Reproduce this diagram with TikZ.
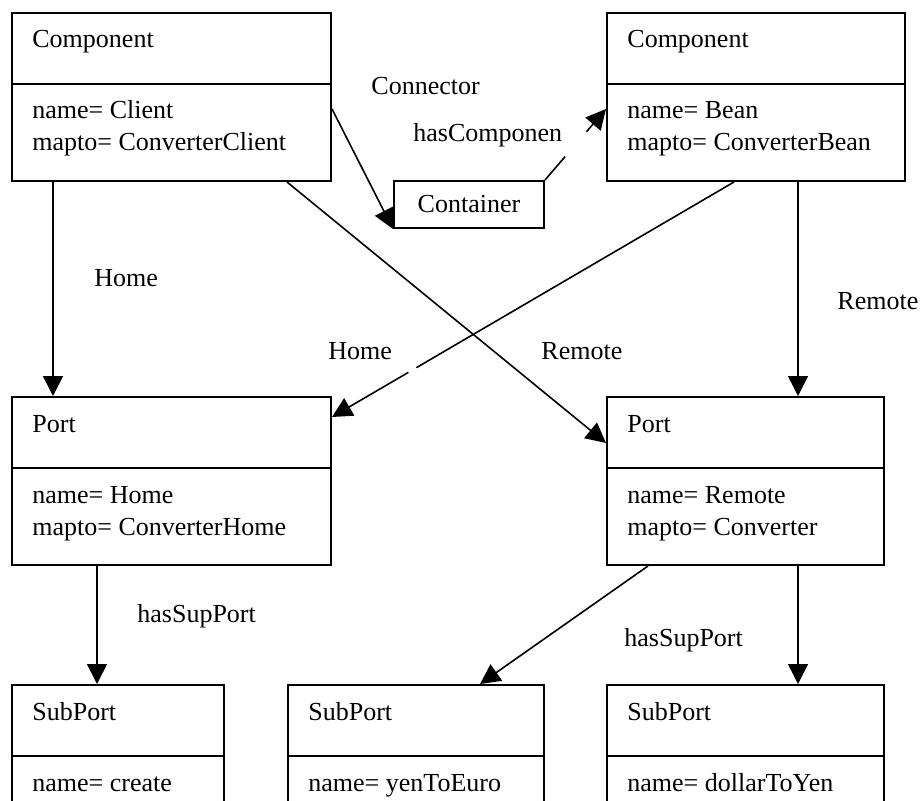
\documentclass[tikz,border=0pt]{standalone}
\usepackage{fontspec}
\setmainfont{Liberation Serif}
\usetikzlibrary{calc}
\usetikzlibrary{arrows.meta}
\tikzset{
  box/.style = {draw, line width=1pt, minimum height=84pt, inner sep=0pt},
  link/.style = {color=#1, line width=0.8pt},
  conn/.style = {color=#1, line width=0.8pt, -{Triangle[length=10pt, width=10pt]}},
  tag/.style = {anchor=base west, inner sep=0pt}
}
\newcommand{\classbox}[6]{%
  % #1: node name
  % #2: top left corner (px)
  % #3: width (px)
  % #4: class name
  % #5: first attribute line
  % #6: second attribute line (may be empty)
  \node[box, minimum width=#3*0.5pt, anchor=north west] (#1) at (#2) {};
  % divider
  \draw[line width=1pt] ($(#1.north west)+(0,72)$) -- ($(#1.north east)+(0,72)$);
  % texts
  \node[tag] (#1-title) at ($(#1.north west)+(21,36)$) {#4};
  \node[tag] (#1-name) at ($(#1.north west)+(21,107)$) {#5};
  \if\relax\detokenize{#6}\relax\else
    \node[tag] (#1-map) at ($(#1.north west)+(21,139)$) {#6};
  \fi
}

\begin{document}
\begin{tikzpicture}[x=0.5pt, y=-0.5pt, font=\fontsize{13}{15.5}\selectfont]

    \useasboundingbox (0,0) rectangle (924,801);
    \clip (0,0) rectangle (924,801);

    % Components
    \classbox{compClient}{11,12}{319}{Component}{name= Client}{mapto= ConverterClient}
    \classbox{compBean}{606,12}{298}{Component}{name= Bean}{mapto= ConverterBean}
    \node[draw, line width=1pt, minimum width=75pt, minimum height=23.5pt, anchor=north west] (container) at (393,180) {Container};

    % Ports
    \classbox{portHome}{11,396}{319}{Port}{name= Home}{mapto= ConverterHome}
    \classbox{portRemote}{606,396}{277}{Port}{name= Remote}{mapto= Converter}

    % SubPorts
    \classbox{subCreate}{11,684}{212}{SubPort}{name= create}{}
    \classbox{subYen}{287,684}{256}{SubPort}{name= yenToEuro}{}
    \classbox{subDollar}{606,684}{277}{SubPort}{name= dollarToYen}{}

    % Coordinates
    \coordinate (beanIn) at ($(compBean.north west)+(0,97)$);
    \coordinate (beanOut) at ($(compBean.south west)+(128,0)$);
    \coordinate (homeIn) at ($(portHome.north east)+(0,21)$);

    % Connectors
    \draw[conn={black}] ($(compClient.north east)+(0,97)$) -- (container.south west);
    \draw[link={black}] (container.north east) -- ($(container.north east)!0.33!(beanIn)$);
    \draw[conn={black}] ($(container.north east)!0.68!(beanIn)$) -- (beanIn);
    \draw[conn={black}] ($(compClient.south west)+(42,0)$) -- ($(portHome.north west)+(42,0)$);
    \draw[conn={black}] ($(compClient.south west)+(276,0)$) -- ($(portRemote.north west)+(0,47)$);
    \draw[link={black}] (beanOut) -- ($(beanOut)!0.79!(homeIn)$);
    \draw[conn={black}] ($(beanOut)!0.81!(homeIn)$) -- (homeIn);
    \draw[conn={black}] ($(compBean.south west)+(192,0)$) -- ($(portRemote.north west)+(192,0)$);
    \draw[conn={black}] ($(portHome.south west)+(86,0)$) -- ($(subCreate.north west)+(86,0)$);
    \draw[conn={black}] ($(portRemote.south west)+(42,0)$) -- ($(subYen.north west)+(193,0)$);
    \draw[conn={black}] ($(portRemote.south west)+(192,0)$) -- ($(subDollar.north west)+(192,0)$);

    % Labels
    \node[tag] (connLbl) at (371,95) {Connector};
    \node[tag] (hasCompLbl) at (413,142) {hasComponen};
    \node[tag] (homeLblL) at (94,287) {Home};
    \node[tag] (remoteLblR) at (837,310) {Remote};
    \node[tag] (homeLblM) at (328,359) {Home};
    \node[tag] (remoteLblM) at (541,359) {Remote};
    \node[tag] (supLblL) at (137,622) {hasSupPort};
    \node[tag] (supLblR) at (624,646) {hasSupPort};

\end{tikzpicture}
\end{document}
